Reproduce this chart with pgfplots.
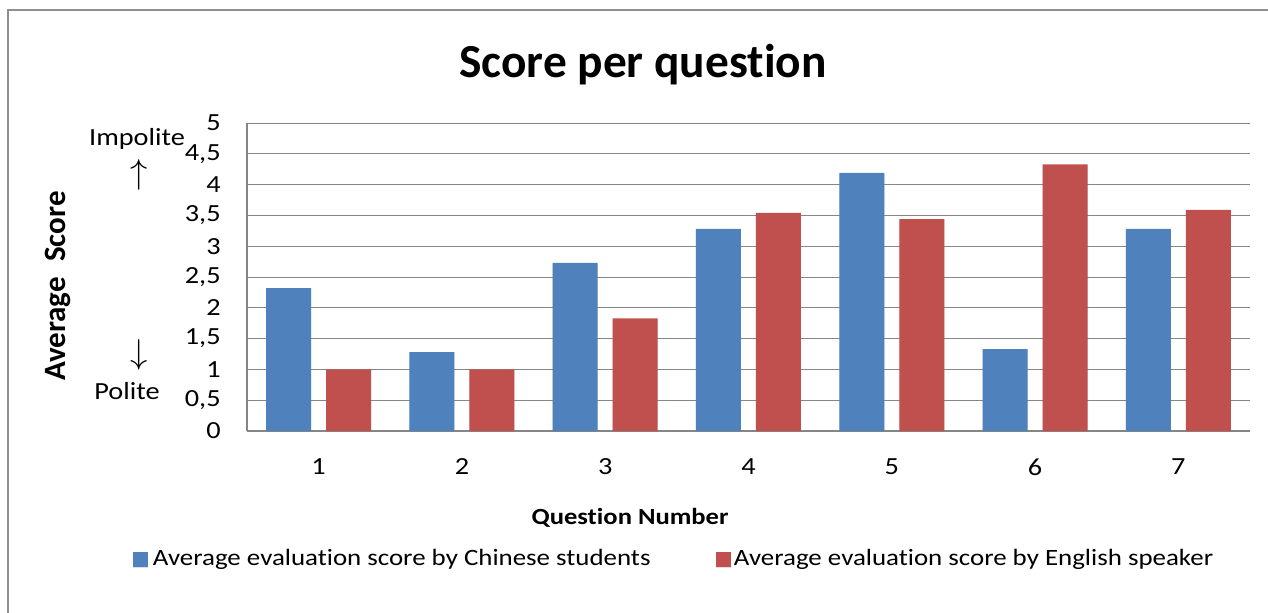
\documentclass[border=0pt]{standalone}
\usepackage{fontspec}
\setmainfont{Carlito}[FakeStretch=1.15, Ligatures=NoCommon]
\newfontfamily\plainfont{Carlito}[Ligatures=NoCommon]
\usepackage{pgfplots}
\pgfplotsset{compat=1.18}
\usetikzlibrary{shadows}
\definecolor{cblue}{HTML}{4F81BD}
\definecolor{cred}{HTML}{C0504D}
\definecolor{gridgray}{HTML}{868686}
\definecolor{framegray}{HTML}{8E8E8E}
\begin{document}
\begin{tikzpicture}
\useasboundingbox (-123.5pt,-90.5pt) rectangle (510.5pt,215.5pt);
\fill[white] (-123.5pt,-90.5pt) rectangle (510.5pt,215.5pt);
\draw[framegray, line width=1pt] (-119.5pt,-91pt) -- (-119.5pt,210.5pt) -- (511pt,210.5pt);
\begin{axis}[
  scale only axis, width=501.5pt, height=154pt,
  ybar=7.5pt, bar width=22.5pt,
  xmin=0.5, xmax=7.5, ymin=0, ymax=5,
  xtick={1,2,3,4,5,6,7}, xticklabels={1,2,3,4,5,6,7},
  ytick={0,0.5,1,1.5,2,2.5,3,3.5,4,4.5,5},
  yticklabels={0,{0,5},1,{1,5},2,{2,5},3,{3,5},4,{4,5},5},
  axis x line*=bottom, axis y line*=left,
  axis line style={-, gridgray, line width=0.6pt},
  major tick length=0pt,
  ymajorgrids, grid style={gridgray, line width=0.5pt},
  tick label style={font=\fontsize{12.3}{14}\selectfont, text=black},
  yticklabel style={inner sep=0pt, xshift=-13pt},
  xticklabel style={inner sep=0pt, anchor=center, yshift=-18pt},
  legend columns=2,
  legend style={at={(axis description cs:-0.11415,-0.41558)}, anchor=west,
    draw=none, fill=none, inner sep=0pt, nodes={inner sep=1.5pt},
    font=\fontsize{11.7}{13}\selectfont},
  legend cell align=left,
  legend image code/.code={\fill[#1] (0pt,-3.75pt) rectangle (7.5pt,3.75pt);},
]
\addplot[fill=cblue, draw=none, drop shadow={shadow xshift=0pt, shadow yshift=-0.6pt, opacity=0.25}]
  coordinates {(1,2.32) (2,1.28) (3,2.73) (4,3.28) (5,4.19) (6,1.33) (7,3.28)};
\addlegendentry{\hspace{1pt}\makebox[280pt][l]{Average evaluation score by Chinese students}}
\addplot[fill=cred, draw=none, drop shadow={shadow xshift=0pt, shadow yshift=-0.6pt, opacity=0.25}]
  coordinates {(1,1.00) (2,1.00) (3,1.83) (4,3.54) (5,3.44) (6,4.33) (7,3.59)};
\addlegendentry{Average evaluation score by English speaker}
\end{axis}
\node[font=\plainfont\bfseries\fontsize{23.7}{26}\selectfont] at (198pt,183pt) {Score per question};
\node[font=\bfseries\fontsize{11.55}{13}\selectfont] at (191.5pt,-43.5pt) {Question Number};
\node[rotate=90, font=\plainfont\bfseries\fontsize{15.5}{17}\selectfont] at (-94.5pt,72.5pt) {Average\hspace{0.5em}Score};
\node[font=\fontsize{12.3}{14}\selectfont] at (-55pt,146pt) {Impolite};
\node[font=\fontsize{17}{19}\selectfont] at (-54pt,128pt) {$\uparrow$};
\node[font=\fontsize{17}{19}\selectfont] at (-54pt,38pt) {$\downarrow$};
\node[font=\fontsize{12.3}{14}\selectfont] at (-60pt,20pt) {Polite};
\end{tikzpicture}
\end{document}
